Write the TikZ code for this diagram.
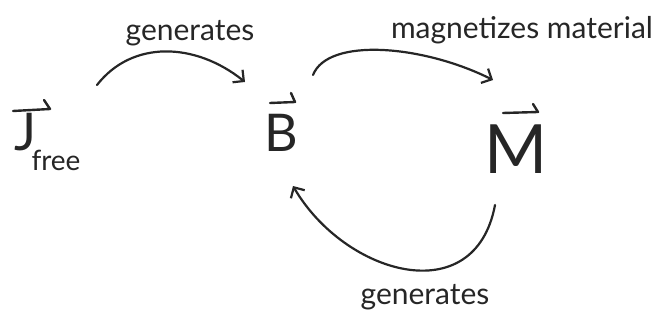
\documentclass[tikz,border=0pt]{standalone}
\usepackage{fontspec}
\setmainfont{Lato}
\usetikzlibrary{arrows.meta}
\begin{document}
\begin{tikzpicture}[x=1pt,y=-1pt,
  lab/.style={font=\fontsize{30}{32}\selectfont, inner sep=0, text=black!85},
  vecl/.style={font=\fontsize{52}{52}\selectfont, inner sep=0, anchor=base, text=black!85},
  vbar/.style={line width=2.4pt, draw=black!85, line cap=round, line join=round},
  conn/.style={line width=2.2pt, draw=black!85, line cap=round,
    -{Straight Barb[length=8pt,width=16pt,line width=2.2pt]}}]
\useasboundingbox (0,0) rectangle (663,323);
\node[vecl] (J) at (25,150) {J};
\node[lab, font=\fontsize{28}{28}\selectfont] (free) at (56,160) {free};
\node[vecl] (B) at (281,152) {B};
\node[vecl, font=\fontsize{68}{68}\selectfont] (M) at (516,173) {M};
\draw[vbar] ([shift={(-12,-39)}]J.base) -- ([shift={(25,-41)}]J.base) -- ++(-6,-9);
\draw[vbar] ([shift={(-11,-49)}]B.base) -- ([shift={(14,-50)}]B.base) -- ++(-4,-9);
\draw[vbar] ([shift={(-13,-60)}]M.base) -- ([shift={(22,-61)}]M.base) -- ++(-5,-8);
\node[lab] (l1) at (190,33) {generates};
\node[lab] (l2) at (522,30) {magnetizes material};
\node[lab] (l3) at (425,297) {generates};
\draw[conn] ([shift={(72,-65)}]J.base) .. controls +(35,-45) and +(-50,-40) .. ([shift={(-36,-70)}]B.base);
\draw[conn] ([shift={(32,-77)}]B.base) .. controls +(15,-38) and +(-70,-35) .. ([shift={(-23,-93)}]M.base);
\draw[conn] ([shift={(-21,32)}]M.base) .. controls +(-20,107) and +(52,89) .. ([shift={(12,34)}]B.base);
\end{tikzpicture}
\end{document}
